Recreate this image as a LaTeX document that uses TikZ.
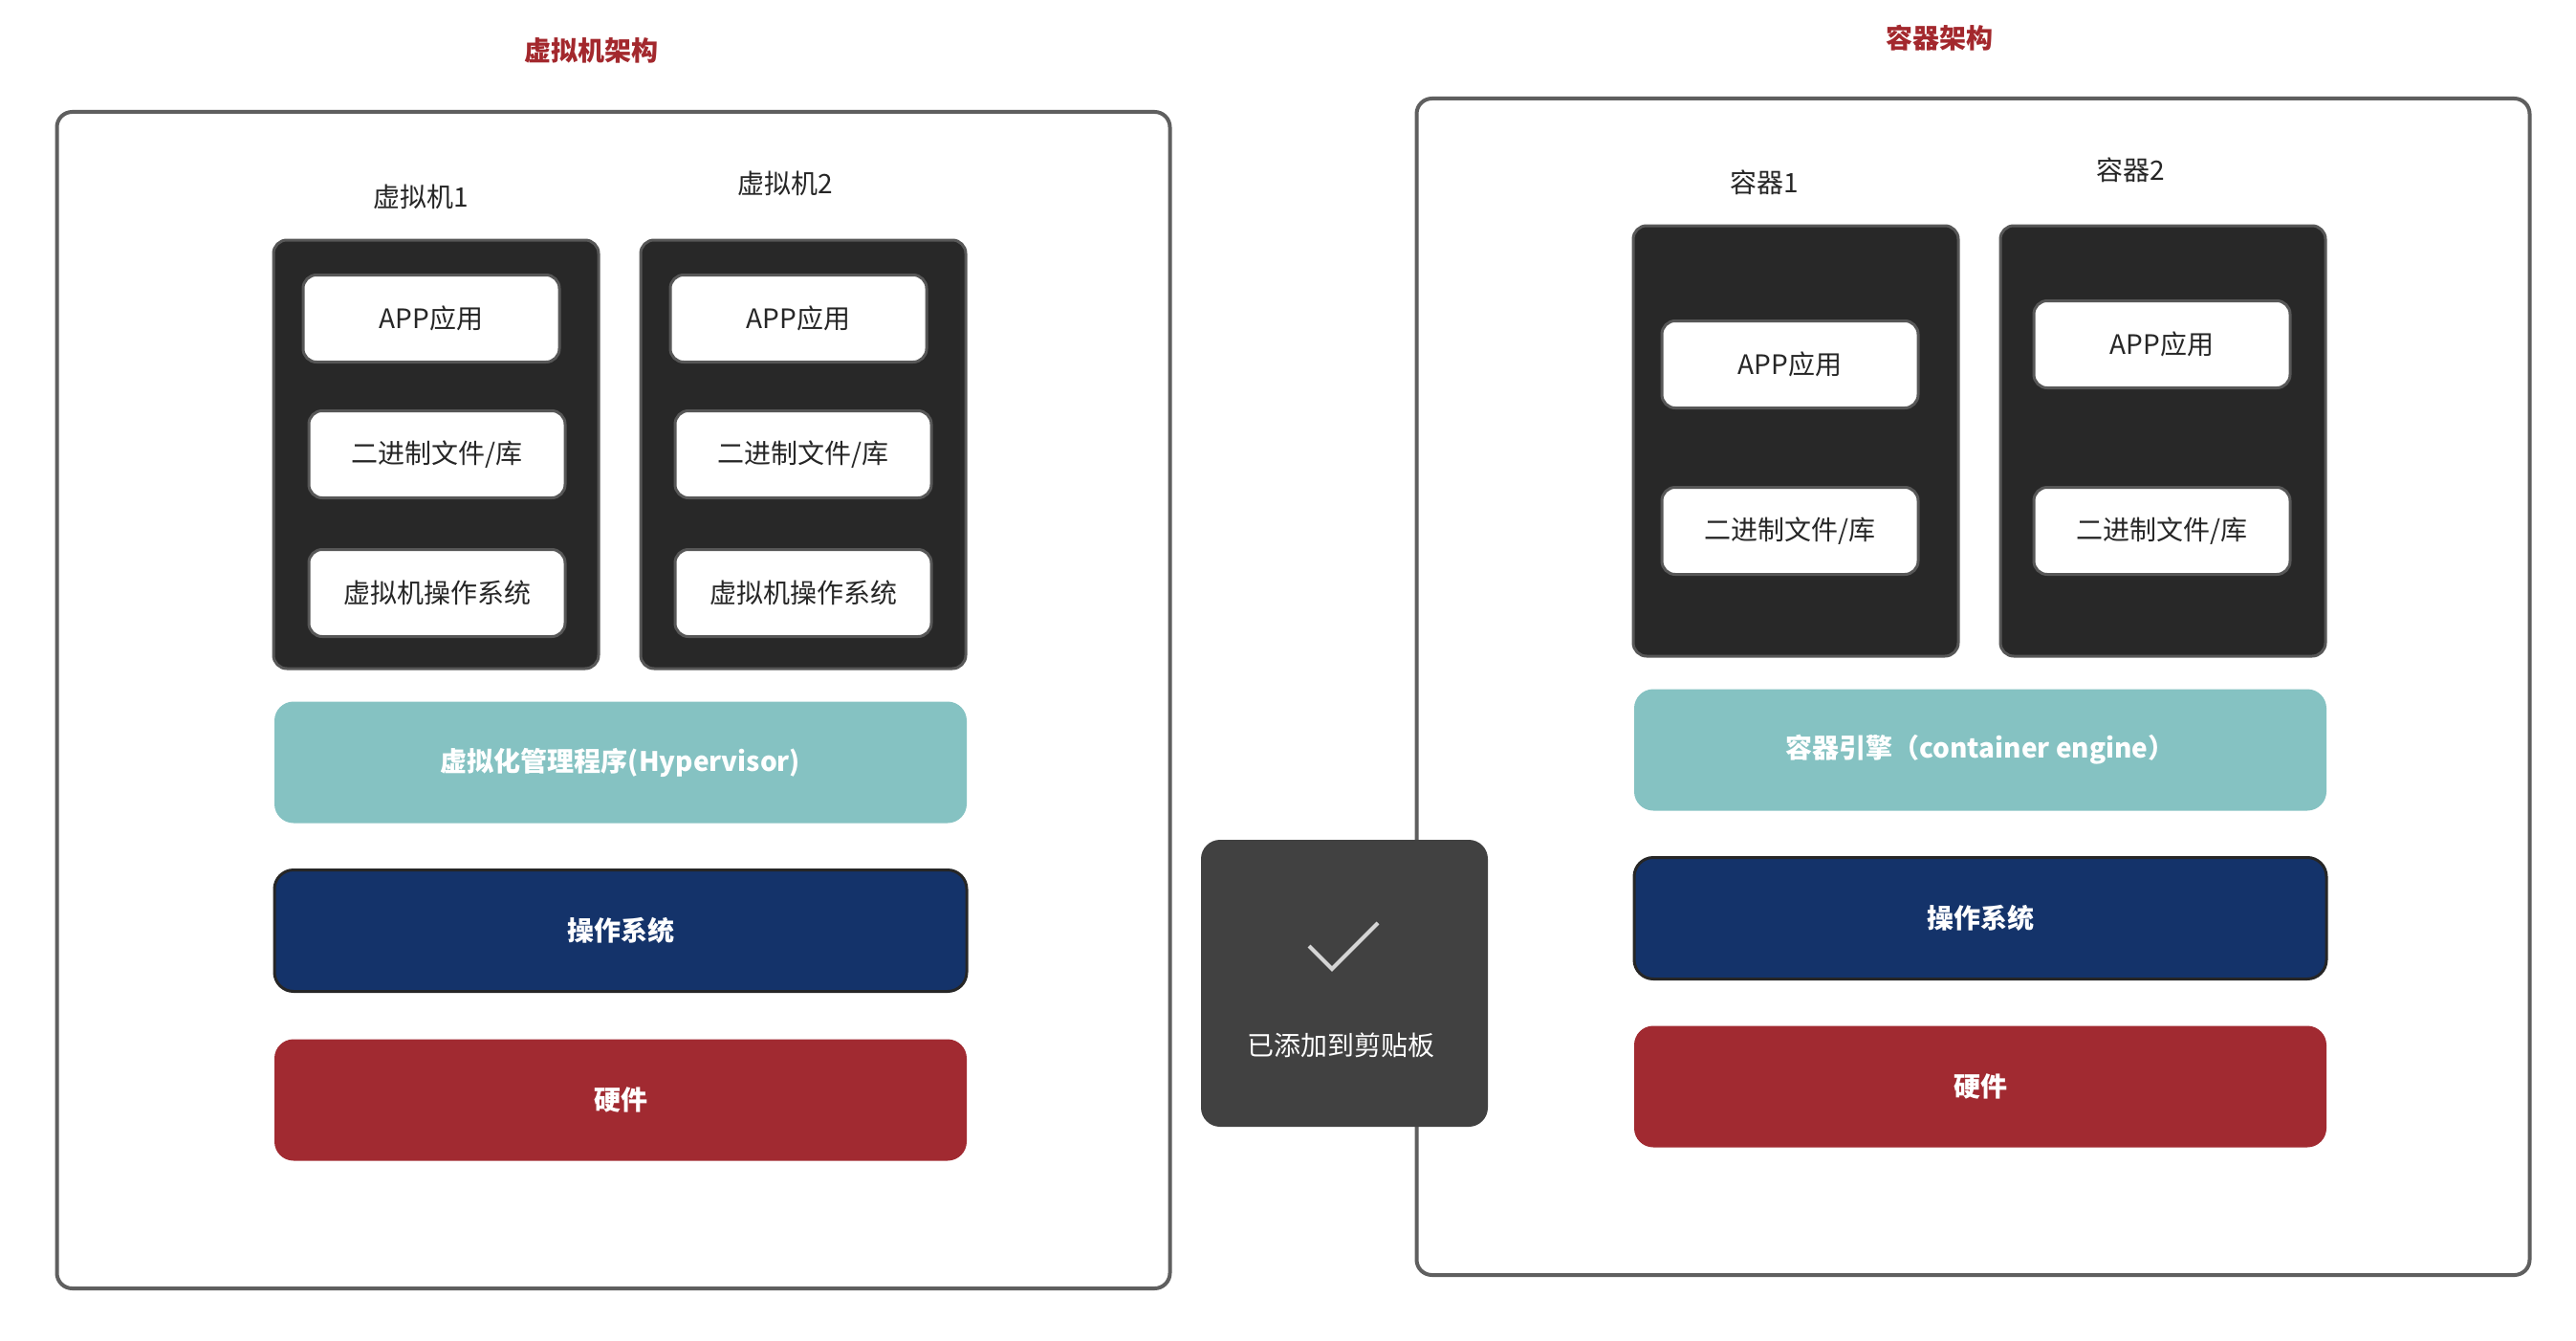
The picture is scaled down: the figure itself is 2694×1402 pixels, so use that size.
\documentclass[tikz,border=0pt]{standalone}
\usepackage{fontspec}
\setmainfont{Noto Sans CJK SC}
\usepackage{xcolor}
\usepackage{tikz}

\definecolor{framegray}{HTML}{5F5F5F}
\definecolor{titlered}{HTML}{A3282D}
\definecolor{boxdark}{HTML}{282828}
\definecolor{boxedge}{HTML}{575757}
\definecolor{barteal}{HTML}{85C2C2}
\definecolor{barnavy}{HTML}{14336A}
\definecolor{barred}{HTML}{A12A31}
\definecolor{toastgray}{HTML}{414141}
\definecolor{checkgray}{HTML}{D5D5D5}

\begin{document}
\begin{tikzpicture}[x=0.5pt,y=-0.5pt,
    every node/.style={font=\fontsize{14pt}{16pt}\selectfont,text=black!85},
    frame/.style={draw=framegray,line width=2pt,rounded corners=8pt,fill=white,
      minimum width=582pt,minimum height=615pt},
    title/.style={text=titlered,font=\fontsize{14pt}{16pt}\selectfont\bfseries},
    stack/.style={draw=boxedge,line width=1.5pt,rounded corners=7pt,fill=boxdark,
      minimum width=170pt,minimum height=224pt},
    layer/.style={draw=boxedge,line width=1.5pt,rounded corners=7pt,fill=white,
      minimum width=134pt,minimum height=45.5pt},
    bar/.style={rounded corners=10pt,minimum width=362pt,minimum height=63.5pt,
      text=white,font=\fontsize{14pt}{16pt}\selectfont\bfseries}]
  % Draw the background and the two frames
  \useasboundingbox[fill=white] (0,0) rectangle (2694,1402);
  \node[frame] (vmframe) at (641.5,732) {};
  \node[frame] (ctframe) at (2063.5,718) {};
  \node[title] (vmtitle) at (618,53) {虚拟机架构};
  \node[title] (cttitle) at (2028,40) {容器架构};

  % Virtual machine side
  \node (vmonelabel) at (440,206) {虚拟机1};
  \node (vmtwolabel) at (821,192) {虚拟机2};
  \node[stack] (vmone) at (456,475) {};
  \node[stack] (vmtwo) at (840,475) {};
  \node[layer] (vmoneapp) at (451,333) {APP应用};
  \node[layer] (vmonebin) at (457,475) {二进制文件/库};
  \node[layer] (vmoneos)  at (457,620) {虚拟机操作系统};
  \node[layer] (vmtwoapp) at (835,333) {APP应用};
  \node[layer] (vmtwobin) at (840,475) {二进制文件/库};
  \node[layer] (vmtwoos)  at (840,620) {虚拟机操作系统};
  \node[bar,fill=barteal] (hypervisor) at (649,797) {虚拟化管理程序(Hypervisor)};
  \node[bar,fill=barnavy,draw=black!85,line width=1.5pt] (vmhostos) at (649,973) {操作系统};
  \node[bar,fill=barred] (vmhardware) at (649,1150) {硬件};

  % Container side
  \node (ctonelabel) at (1845,191) {容器1};
  \node (cttwolabel) at (2228,178) {容器2};
  \node[stack,minimum height=225pt] (ctone) at (1878,461) {};
  \node[stack,minimum height=225pt] (cttwo) at (2262,461) {};
  \node[layer] (ctoneapp) at (1872,381) {APP应用};
  \node[layer] (ctonebin) at (1872,555) {二进制文件/库};
  \node[layer] (cttwoapp) at (2261,360) {APP应用};
  \node[layer] (cttwobin) at (2261,555) {二进制文件/库};
  \node[bar,fill=barteal] (engine) at (2071,784) {容器引擎（container engine）};
  \node[bar,fill=barnavy,draw=black!85,line width=1.5pt] (cthostos) at (2071,960) {操作系统};
  \node[bar,fill=barred] (cthardware) at (2071,1136) {硬件};

  % Draw the clipboard toast on top
  \node[fill=toastgray,rounded corners=10pt,minimum width=150pt,minimum height=150pt] (toast) at (1406,1028) {};
  \draw[checkgray,line width=2pt] (1369,989) -- (1393,1013) -- (1441,965);
  \node[text=white] (toasttext) at (1402,1093) {已添加到剪贴板};
\end{tikzpicture}
\end{document}
